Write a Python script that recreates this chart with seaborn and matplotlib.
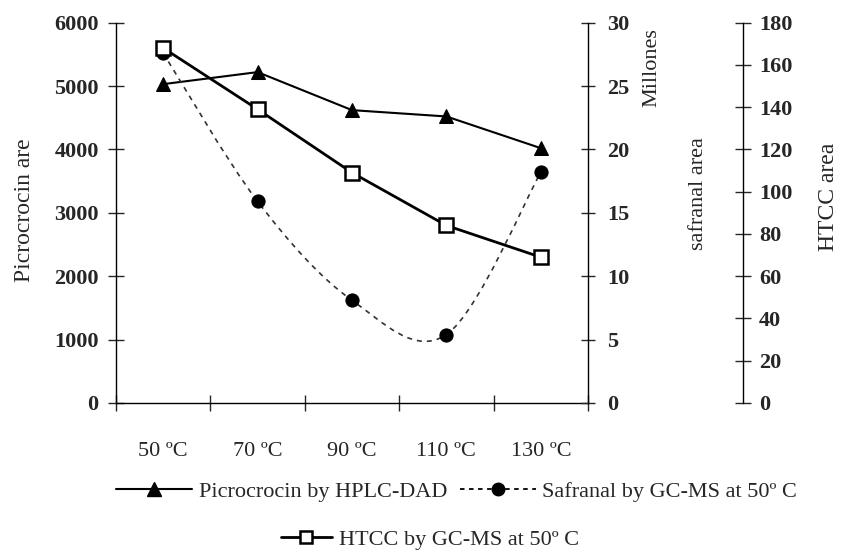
import numpy as np
import pandas as pd
import matplotlib.pyplot as plt
import seaborn as sns
from matplotlib.path import Path
from matplotlib.patches import PathPatch
from matplotlib.lines import Line2D

# --- data ---
temps = ['50 ºC', '70 ºC', '90 ºC', '110 ºC', '130 ºC']
picrocrocin = [5030, 5220, 4620, 4520, 4020]       # left axis
safranal = [27.6, 15.9, 8.1, 5.4, 18.2]            # millones
htcc = [168, 139, 109, 84, 69]                     # third axis

left_ticks = [0, 1000, 2000, 3000, 4000, 5000, 6000]
saf_ticks = [0, 5, 10, 15, 20, 25, 30]
htcc_ticks = [0, 20, 40, 60, 80, 100, 120, 140, 160, 180]

df = pd.DataFrame({'pos': np.arange(len(temps)), 'temp': temps,
                   'picro': picrocrocin, 'safranal': safranal, 'htcc': htcc})

sns.set_theme(style='white')
plt.rcParams['font.family'] = ['Liberation Serif', 'DejaVu Serif']
FS = 16


def smooth_path(x, y):
    # Catmull-Rom spline as cubic bezier segments (Excel-like smoothed line)
    p = np.column_stack([np.asarray(x, float), np.asarray(y, float)])
    pp = np.vstack([p[0], p, p[-1]])
    verts = [tuple(p[0])]
    codes = [Path.MOVETO]
    for i in range(len(p) - 1):
        p0, p1, p2, p3 = pp[i], pp[i + 1], pp[i + 2], pp[i + 3]
        verts += [tuple(p1 + (p2 - p0) / 6), tuple(p2 - (p3 - p1) / 6), tuple(p2)]
        codes += [Path.CURVE4] * 3
    return Path(verts, codes)


fig = plt.figure(figsize=(8.46, 5.54), dpi=100)
ax = fig.add_axes([0.1371, 0.2726, 0.558, 0.6865])
ax2 = ax.twinx()
ax3 = ax.twinx()
# move the third spine first (this resets its ticks)
ax3.spines['right'].set_position(('axes', 1.328))

# picrocrocin
sns.lineplot(data=df, x='pos', y='picro', ax=ax, color='black', lw=1.5,
             marker='^', markersize=9.5, markeredgecolor='black', sort=False)
# safranal (smoothed dashed curve + markers)
ax2.add_patch(PathPatch(smooth_path(df['pos'], df['safranal']), fill=False,
                        edgecolor='#333333', lw=1.2, ls=(0, (3, 3))))
sns.scatterplot(data=df, x='pos', y='safranal', ax=ax2, color='black', s=90,
                marker='o', edgecolor='black', zorder=5)
# HTCC
sns.lineplot(data=df, x='pos', y='htcc', ax=ax3, color='black', lw=2,
             marker='s', markersize=9.5, markerfacecolor='white',
             markeredgecolor='black', markeredgewidth=1.8, sort=False)

# x axis: tick marks between categories, labels in the middle
ax.set_xlim(-0.5, len(temps) - 0.5)
ax.set_xticks(np.arange(len(temps) + 1) - 0.5)
ax.set_xticklabels([])
ax.set_xticks(df['pos'], minor=True)
ax.set_xticklabels(temps, minor=True, fontsize=FS)
ax.tick_params(axis='x', which='major', direction='inout', length=11, width=1, bottom=True)
ax.tick_params(axis='x', which='minor', length=0, pad=28)
ax.set_xlabel('')

ax.set_ylim(0, 6000)
ax.set_yticks(left_ticks)
ax.set_yticklabels([str(t) for t in left_ticks], fontsize=FS, fontweight='bold')
ax.tick_params(axis='y', direction='inout', length=11, width=1, left=True, pad=7)
ax.set_ylabel('')

ax2.set_ylim(0, 30)
ax2.set_yticks(saf_ticks)
ax2.set_yticklabels([str(t) for t in saf_ticks], fontsize=FS, fontweight='bold')
ax2.tick_params(axis='y', direction='inout', length=10, width=1, right=True, pad=9)
ax2.set_ylabel('')

ax3.set_ylim(0, 180)
ax3.set_yticks(htcc_ticks)
ax3.set_yticklabels([str(t) for t in htcc_ticks], fontsize=FS, fontweight='bold')
ax3.tick_params(axis='y', direction='inout', length=11, width=1, right=True, pad=6)
ax3.set_ylabel('')

for a in (ax, ax2, ax3):
    a.grid(False)
    a.spines['top'].set_visible(False)
    for s in a.spines.values():
        s.set_color('black')
        s.set_linewidth(1)
ax.spines['right'].set_visible(False)
for a in (ax2, ax3):
    a.spines['left'].set_visible(False)
    a.spines['bottom'].set_visible(False)

# axis titles
fig.text(24 / 846, 1 - 210 / 554, 'Picrocrocin are', rotation=90, ha='center', va='center', fontsize=FS + 1)
fig.text(652 / 846, 1 - 68 / 554, 'Millones', rotation=90, ha='center', va='center', fontsize=FS)
fig.text(698 / 846, 1 - 194 / 554, 'safranal area', rotation=90, ha='center', va='center', fontsize=FS)
fig.text(828 / 846, 1 - 197 / 554, 'HTCC area', rotation=90, ha='center', va='center', fontsize=FS + 1)

# legend
h1 = Line2D([], [], color='black', lw=1.5, marker='^', ms=10)
h2 = Line2D([], [], color='black', lw=1.3, ls=(0, (2.5, 2.5)), marker='o', ms=9)
h3 = Line2D([], [], color='black', lw=2, marker='s', ms=8, mfc='white', mew=1.8)
fig.legend([h1, h2], ['Picrocrocin by HPLC-DAD', 'Safranal by GC-MS at 50º C'],
           ncol=2, loc='center', bbox_to_anchor=(0.54, 0.113), frameon=False,
           fontsize=FS, handlelength=3.4, columnspacing=0.6, handletextpad=0.3)
fig.legend([h3], ['HTCC by GC-MS at 50º C'], loc='center',
           bbox_to_anchor=(0.508, 0.026), frameon=False, fontsize=FS,
           handlelength=2.3, handletextpad=0.3)

fig.savefig('out.png', dpi=100)
